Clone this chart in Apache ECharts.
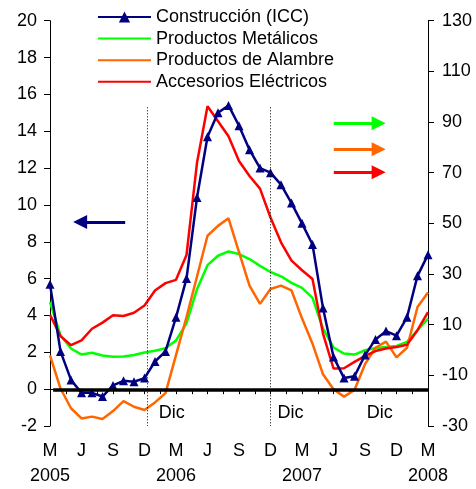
<!DOCTYPE html>
<html>
  <head>
    <meta charset="utf-8" />
    <script src="https://cdn.jsdelivr.net/npm/echarts@6/dist/echarts.min.js"></script>
  </head>
  <body>
    <style>
      #main,
      html,
      body {
        width: 100%;
        height: 100%;
        margin: 0;
        overflow: hidden;
        background: #fff;
      }
    </style>
    <div id="main"></div>
    <script type="text/javascript">
      // meses de marzo 2005 a marzo 2008 (indice 0..36), etiqueta cada 3 meses
      var monthLabels = ['M', 'J', 'S', 'D', 'M', 'J', 'S', 'D', 'M', 'J', 'S', 'D', 'M'];
      var yearLabels = ['2005', '2006', '2007', '2008'];

      // eje izquierdo
      var icc = [5.7, 2.05, 0.5, -0.2, -0.2, -0.4, 0.2, 0.45, 0.4, 0.6, 1.5, 2.05, 3.9, 6.0,
        10.4, 13.7, 15.0, 15.4, 14.3, 13.0, 12.0, 11.75, 11.1, 10.1, 9.0, 7.85, 4.4, 1.75,
        0.6, 0.7, 1.85, 2.7, 3.15, 2.9, 3.9, 6.15, 7.3];
      // eje derecho
      var metalicos = [18.9, 5.8, 0.6, -1.8, -1.1, -2.2, -2.7, -2.6, -2.0, -1.0, -0.3, 0.7, 3.8,
        10.5, 24, 33.5, 37.2, 38.9, 37.9, 35.9, 33.2, 30.8, 29.1, 26.5, 24.5, 20.6, 8.4, 1.0,
        -1.4, -1.8, -0.1, 0.8, 1.2, 1.6, 3.2, 7.8, 12.4];
      var alambre = [-2.1, -15.2, -23.0, -27.0, -26.3, -27.2, -24.1, -20.2, -22.4, -23.7, -20.7,
        -17.0, -2, 13, 29, 45.1, 49, 52, 38.6, 25.4, 18.2, 24.1, 25.4, 23.5, 12.5, 2.5, -9.6,
        -15.5, -18.4, -15.8, -5.6, 0.9, 3.3, -2.9, 0.9, 17.0, 22.7];
      var electricos = [13.9, 5.5, 1.9, 3.8, 8.4, 10.8, 13.7, 13.4, 14.7, 17.6, 23.5, 26.4, 27.7,
        37.5, 73.9, 96.2, 90.3, 84.4, 74.6, 68.7, 63.7, 52.3, 42.5, 35.3, 31.5, 28, 6.5, -7.3,
        -7.2, -4.7, -2.3, -0.4, 0.6, 1.2, 2.1, 7.8, 15];

      var font = 'Liberation Sans, Arial, sans-serif';

      function pairs(arr) {
        return arr.map(function (v, i) { return [i, v]; });
      }

      function arrow(x0, x1, y) {
        return [{ coord: [x0, y] }, { coord: [x1, y] }];
      }

      var myChart = echarts.init(document.getElementById('main'));

      var option = {
        animation: false,
        textStyle: { fontFamily: font, color: '#000' },
        grid: { left: 50, right: 48, top: 20.7, bottom: 62 },
        legend: {
          orient: 'vertical',
          left: 92,
          top: 3,
          itemWidth: 53,
          itemHeight: 14,
          itemGap: 3.6,
          data: [
            { name: 'Construcción (ICC)' },
            { name: 'Productos Metálicos', itemStyle: { opacity: 0 } },
            { name: 'Productos de Alambre', itemStyle: { opacity: 0 } },
            { name: 'Accesorios Eléctricos', itemStyle: { opacity: 0 } }
          ],
          textStyle: { fontSize: 18, fontFamily: font, color: '#000', lineHeight: 18 }
        },
        xAxis: {
          type: 'value',
          min: 0,
          max: 36,
          interval: 1.5,
          splitLine: { show: false },
          axisLine: { lineStyle: { color: '#000', width: 1 } },
          axisTick: { length: 5, lineStyle: { color: '#000' } },
          axisLabel: {
            margin: 13,
            fontSize: 18,
            lineHeight: 25,
            color: '#000',
            fontFamily: font,
            formatter: function (v) {
              if (v % 3 !== 0) return '';
              var k = v / 3;
              var yr = (v % 12 === 0) ? yearLabels[v / 12] : '';
              return monthLabels[k] + '\n' + yr;
            }
          }
        },
        yAxis: [
          {
            type: 'value',
            min: -2,
            max: 20,
            interval: 2,
            splitLine: { show: false },
            axisLine: { show: true, lineStyle: { color: '#000' } },
            axisTick: { show: true, length: 6, lineStyle: { color: '#000' } },
            axisLabel: { margin: 13, fontSize: 18, color: '#000', fontFamily: font }
          },
          {
            type: 'value',
            min: -30,
            max: 130,
            interval: 20,
            position: 'right',
            splitLine: { show: false },
            axisLine: { show: true, lineStyle: { color: '#000' } },
            axisTick: { show: true, length: 6, lineStyle: { color: '#000' } },
            axisLabel: { margin: 14, fontSize: 18, color: '#000', fontFamily: font }
          }
        ],
        series: [
          {
            name: 'Productos Metálicos',
            type: 'line',
            yAxisIndex: 1,
            data: pairs(metalicos),
            symbol: 'none',
            lineStyle: { color: '#00FF00', width: 2.5 },
            itemStyle: { color: '#00FF00' },
            markLine: {
              silent: true,
              symbol: ['none', 'triangle'],
              symbolSize: 14,
              label: { show: false },
              lineStyle: { color: '#00FF00', width: 3, type: 'solid' },
              data: [arrow(27.03, 31.3, 89.5)]
            }
          },
          {
            name: 'Productos de Alambre',
            type: 'line',
            yAxisIndex: 1,
            data: pairs(alambre),
            symbol: 'none',
            lineStyle: { color: '#FF6600', width: 2.5 },
            itemStyle: { color: '#FF6600' },
            markLine: {
              silent: true,
              symbol: ['none', 'triangle'],
              symbolSize: 14,
              label: { show: false },
              lineStyle: { color: '#FF6600', width: 3, type: 'solid' },
              data: [arrow(27.03, 31.3, 79.3)]
            }
          },
          {
            name: 'Accesorios Eléctricos',
            type: 'line',
            yAxisIndex: 1,
            data: pairs(electricos),
            symbol: 'none',
            lineStyle: { color: '#FF0000', width: 2.5 },
            itemStyle: { color: '#FF0000' },
            markLine: {
              silent: true,
              symbol: ['none', 'triangle'],
              symbolSize: 14,
              label: { show: false },
              lineStyle: { color: '#FF0000', width: 3, type: 'solid' },
              data: [arrow(27.03, 31.3, 70.2)]
            }
          },
          {
            name: 'Construcción (ICC)',
            type: 'line',
            yAxisIndex: 0,
            data: pairs(icc),
            symbol: 'triangle',
            symbolSize: 9,
            lineStyle: { color: '#000080', width: 2.5 },
            itemStyle: { color: '#000080' },
            markLine: {
              silent: true,
              symbol: ['none', 'none'],
              label: { show: false },
              data: [
                // linea del cero
                [{ coord: [0.3, -0.05], lineStyle: { color: '#000', width: 3.5, type: 'solid' } }, { coord: [36, -0.05] }],
                // diciembres
                [{ coord: [9.3, 15.3], lineStyle: { color: '#000', width: 1, type: [1, 2] } }, { coord: [9.3, -2] }],
                [{ coord: [21, 15.3], lineStyle: { color: '#000', width: 1, type: [1, 2] } }, { coord: [21, -2] }],
                [{ coord: [33, 20.4], lineStyle: { color: '#000', width: 1, type: [1, 2] } }, { coord: [33, -2] }],
                // flecha al eje izquierdo
                [{ coord: [7.16, 9.08], symbol: 'none', lineStyle: { color: '#000080', width: 3, type: 'solid' } },
                 { coord: [2.87, 9.08], symbol: 'triangle', symbolSize: 14 }]
              ]
            },
            markPoint: {
              silent: true,
              symbol: 'circle',
              symbolSize: 0,
              label: {
                show: true,
                position: 'inside',
                formatter: 'Dic',
                fontSize: 18,
                color: '#000',
                fontFamily: font
              },
              data: [
                { coord: [11.6, -1.28] },
                { coord: [22.9, -1.28] },
                { coord: [31.4, -1.28] }
              ]
            }
          }
        ]
      };

      myChart.setOption(option);
    </script>
  </body>
</html>
